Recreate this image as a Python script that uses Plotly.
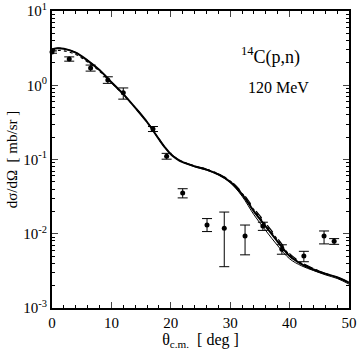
import plotly.graph_objects as go

# Theory curves (angle in deg, cross section in mb/sr)
theta_curve = [0, 1, 2, 4, 6, 8, 10, 12, 14, 16, 18, 19, 20, 21, 22, 24, 26, 28,
               30, 32, 34, 36, 38, 40, 42, 44, 46, 48, 50]
sigma_solid = [3.05, 3.15, 3.1, 2.75, 2.15, 1.6, 1.1, 0.76, 0.5, 0.32, 0.188, 0.146,
               0.118, 0.102, 0.092, 0.081, 0.073, 0.063, 0.050, 0.034, 0.020, 0.0125,
               0.0078, 0.0050, 0.0039, 0.0033, 0.0029, 0.0026, 0.0022]
sigma_dashed = [3.05, 3.15, 3.1, 2.75, 2.15, 1.6, 1.1, 0.76, 0.5, 0.32, 0.188, 0.146,
                0.118, 0.103, 0.093, 0.082, 0.074, 0.064, 0.052, 0.036, 0.022, 0.0138,
                0.0086, 0.0054, 0.0041, 0.0034, 0.0029, 0.0026, 0.0022]
sigma_dotted = [2.85, 2.95, 2.9, 2.6, 2.05, 1.55, 1.08, 0.75, 0.5, 0.32, 0.188, 0.146,
                0.118, 0.103, 0.093, 0.082, 0.074, 0.064, 0.051, 0.035, 0.021, 0.0132,
                0.0083, 0.0052, 0.0040, 0.0034, 0.0029, 0.0026, 0.0022]
sigma_thin = [3.05, 3.15, 3.1, 2.75, 2.15, 1.6, 1.1, 0.76, 0.5, 0.32, 0.188, 0.146,
              0.118, 0.102, 0.092, 0.080, 0.072, 0.062, 0.049, 0.032, 0.018, 0.0110,
              0.0069, 0.0046, 0.0037, 0.0032, 0.0028, 0.0025, 0.0021]

# Experimental data
theta_exp = [0.0, 2.9, 6.5, 9.4, 12.0, 17.0, 19.3, 22.0, 26.1, 29.0, 32.5,
             35.5, 38.7, 42.4, 45.8, 47.5]
sigma_exp = [2.8, 2.26, 1.71, 1.18, 0.79, 0.258, 0.111, 0.0354, 0.0131, 0.0119,
             0.0093, 0.0127, 0.0062, 0.0050, 0.0093, 0.0079]
err_up = [0.1, 0.15, 0.16, 0.12, 0.13, 0.02, 0.01, 0.005, 0.0029, 0.0077,
          0.0038, 0.0016, 0.0009, 0.0008, 0.0016, 0.0007]
err_down = [0.1, 0.15, 0.16, 0.12, 0.14, 0.02, 0.01, 0.005, 0.0024, 0.0083,
            0.0041, 0.0016, 0.0009, 0.0008, 0.0020, 0.0007]

y_tickvals = [1e-3, 1e-2, 1e-1, 1, 10]
y_ticktext = ["10<sup>-3</sup>", "10<sup>-2</sup>", "10<sup>-1</sup>",
              "10<sup>0</sup>", "10<sup>1</sup>"]

serif = "Liberation Serif, Times New Roman, serif"

fig = go.Figure()

curve_styles = [
    (sigma_dashed, dict(color="black", width=1.2, dash="dash")),
    (sigma_dotted, dict(color="black", width=1.2, dash="dot")),
    (sigma_thin, dict(color="black", width=1)),
    (sigma_solid, dict(color="black", width=2)),
]
for sig, line in curve_styles :
    fig.add_trace(go.Scatter(
        x=theta_curve, y=sig, mode="lines",
        line=dict(shape="spline", smoothing=1.0, **line),
        showlegend=False
    ))

fig.add_trace(go.Scatter(
    x=theta_exp, y=sigma_exp, mode="markers",
    marker=dict(color="black", size=5),
    error_y=dict(type="data", symmetric=False, array=err_up, arrayminus=err_down,
                 color="black", thickness=1, width=5),
    cliponaxis=False,
    showlegend=False
))

fig.add_annotation(
    x=0.735, y=0.85, xref="paper", yref="paper",
    xanchor="center", yanchor="middle",
    text="<sup>14</sup>C(p,n)", showarrow=False,
    font=dict(family=serif, size=18, color="black")
)
fig.add_annotation(
    x=0.762, y=0.741, xref="paper", yref="paper",
    xanchor="center", yanchor="middle",
    text="120 MeV", showarrow=False,
    font=dict(family=serif, size=16, color="black")
)

fig.update_layout(
    width=359, height=350,
    margin=dict(l=52, r=10, t=11, b=42),
    paper_bgcolor="white", plot_bgcolor="white",
    font=dict(family=serif, size=15, color="black"),
    xaxis=dict(
        range=[0, 50], dtick=10, ticks="inside", ticklen=6, automargin=False,
        showline=True, linecolor="black", linewidth=2, mirror="ticks",
        showgrid=False, zeroline=False,
        minor=dict(dtick=2, ticks="inside", ticklen=3, tickcolor="black"),
        title=dict(text="θ<sub>c.m.</sub>  [ deg ]", standoff=0,
                   font=dict(family=serif, size=16)),
    ),
    yaxis=dict(
        type="log", range=[-3, 1], tickvals=y_tickvals, ticktext=y_ticktext,
        ticks="inside", ticklen=6, automargin=False,
        showline=True, linecolor="black", linewidth=2, mirror="ticks",
        showgrid=False, zeroline=False,
        minor=dict(dtick="D1", ticks="inside", ticklen=3, tickcolor="black"),
        title=dict(text="dσ/dΩ  [ mb/sr ]", standoff=2,
                   font=dict(family=serif, size=15)),
    ),
)

# The page body has a default margin, drop it so the figure sits at (0, 0)
fig.write_html("out.html", config={"displayModeBar": False},
               post_script="document.body.style.margin = '0';")
